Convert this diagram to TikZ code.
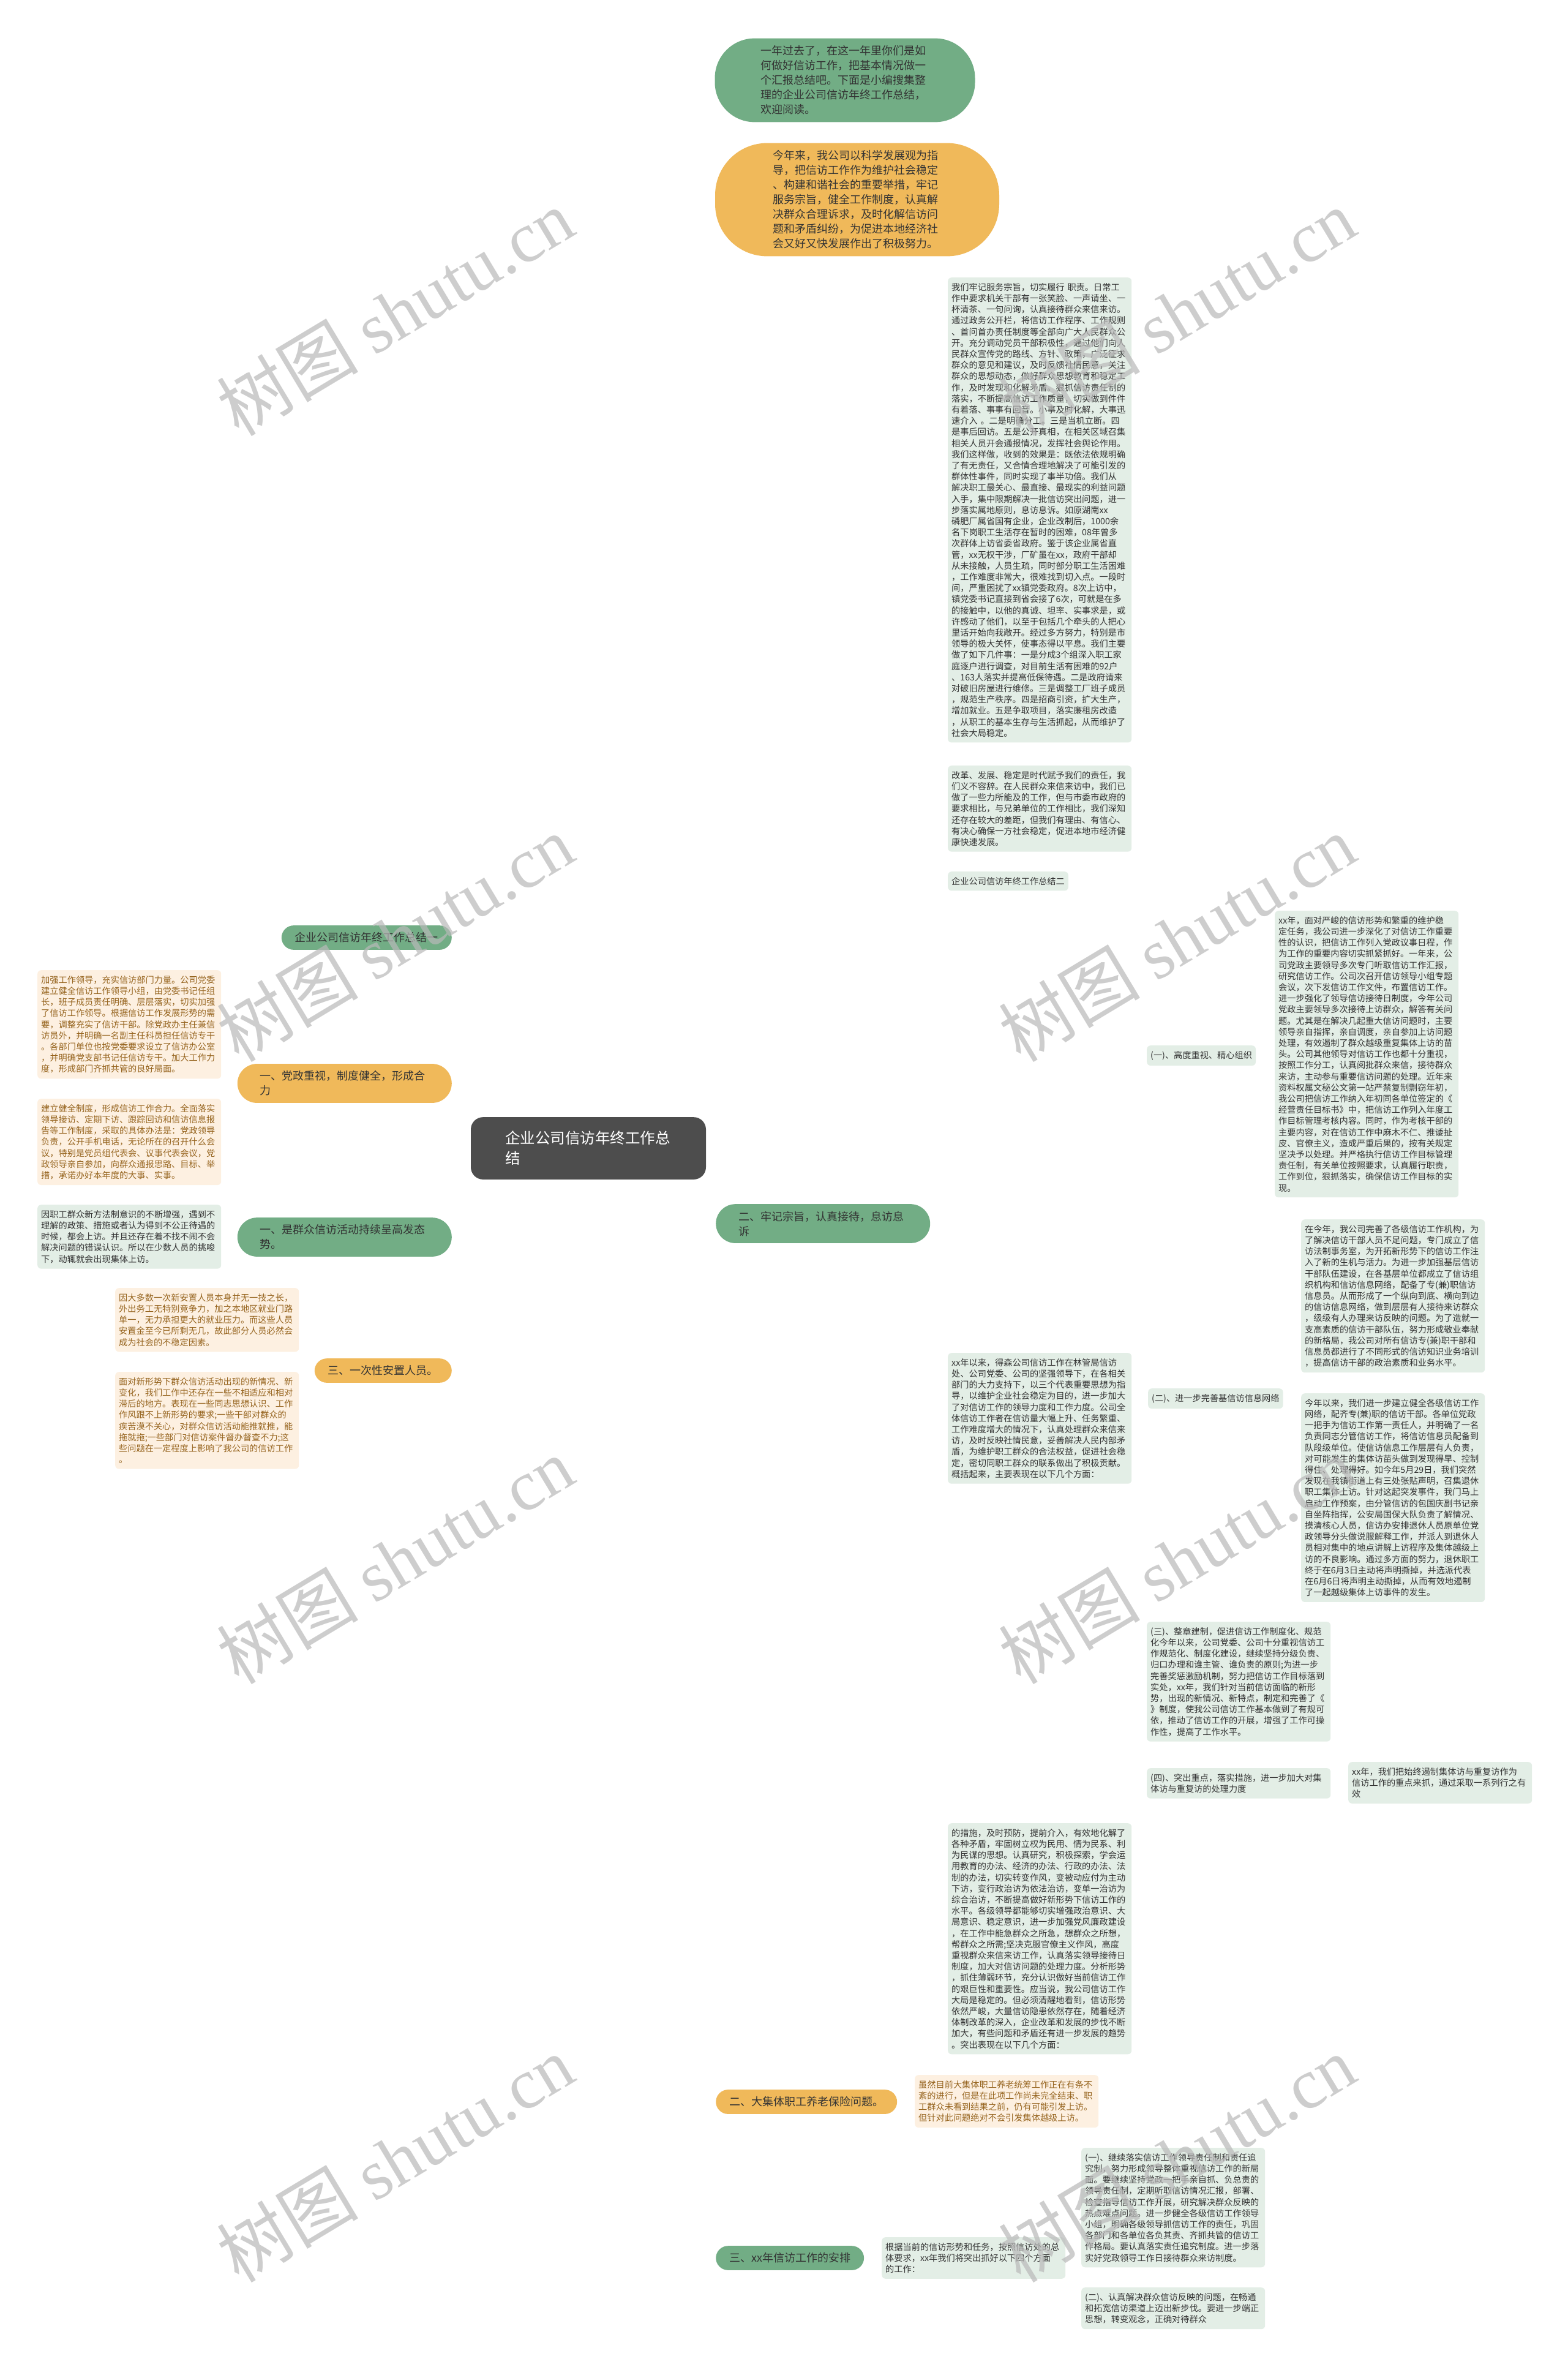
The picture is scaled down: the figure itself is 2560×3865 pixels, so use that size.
\documentclass[tikz,border=0pt]{standalone}
\usepackage{fontspec}
\setmainfont{Noto Sans CJK SC}
\newfontfamily\wmfont{Liberation Serif}
\usepackage{xcolor}
\usetikzlibrary{backgrounds,calc}
\definecolor{cRoot}  {RGB}{77,77,77}
\definecolor{cGreen} {RGB}{114,173,133}
\definecolor{cOrange}{RGB}{240,185,90}
\definecolor{cPaleG} {RGB}{227,238,230}
\definecolor{cPaleO} {RGB}{253,240,225}
\definecolor{cText}  {RGB}{51,51,51}
\definecolor{cBrown} {RGB}{150,100,30}
\definecolor{cMark}  {RGB}{185,185,185}
\tikzset{
  root/.style={fill=cRoot,text=white,rounded corners=20pt,text width=272pt,align=left,
               inner xsep=56pt,inner ysep=23pt,font=\fontsize{24.5}{33}\selectfont},
  pill/.style={rounded corners=20pt,text=cText,inner xsep=22pt,inner ysep=11.5pt,
               align=left,font=\fontsize{18}{24}\selectfont},
  pillG/.style={pill,fill=cGreen},
  pillO/.style={pill,fill=cOrange},
  wide/.style={text width=276pt,inner xsep=37pt,rounded corners=32pt},
  bigpill/.style={text width=276pt,inner ysep=12pt},
  box/.style={fill=cPaleG,rounded corners=6pt,text=cText,inner xsep=6pt,inner ysep=9pt,
              align=left,anchor=north west,font=\fontsize{14.2}{18.2}\selectfont},
  boxO/.style={box,fill=cPaleO,text=cBrown},
  blk/.style={box,text width=288pt},
  blkO/.style={boxO,text width=288pt},
  lnG/.style={draw=cGreen,line width=2.4pt},
  lnO/.style={draw=cOrange,line width=2.4pt},
  wmark/.style={rotate=31,text=cMark,opacity=0.7,font=\fontsize{116}{116}\selectfont},
}
\begin{document}
\begin{tikzpicture}[x=1pt,y=-1pt]
  \useasboundingbox[fill=white] (0,0) rectangle (2560,3865);

  % ---- centre ----
  \node[root] (root) at (961,1875) {企业公司信访年终工作总\\结};
  \coordinate (rootR) at (1120,1875);
  \coordinate (rootL) at (800,1875);

  % ---- right main branches ----
  \node[pillG,bigpill,rounded corners=65pt,minimum width=425pt] (intro) at (1380,131)
    {一年过去了，在这一年里你们是如\\何做好信访工作，把基本情况做一\\个汇报总结吧。下面是小编搜集整\\理的企业公司信访年终工作总结，\\欢迎阅读。};
  \node[pillO,bigpill,rounded corners=85pt,minimum width=464pt] (guide) at (1400,326)
    {今年来，我公司以科学发展观为指\\导，把信访工作作为维护社会稳定\\、构建和谐社会的重要举措，牢记\\服务宗旨，健全工作制度，认真解\\决群众合理诉求，及时化解信访问\\题和矛盾纠纷，为促进本地经济社\\会又好又快发展作出了积极努力。};
  \node[pillG,wide,anchor=west] (duty) at (1169,1998) {二、牢记宗旨，认真接待，息访息\\诉};
  \node[pillO,anchor=west] (pension) at (1169,3432) {二、大集体职工养老保险问题。};
  \node[pillG,anchor=west] (plan) at (1169,3687) {三、xx年信访工作的安排};

  % ---- left main branches ----
  \node[pillG,anchor=east] (sumA) at (738,1531) {企业公司信访年终工作总结一};
  \node[pillO,wide,anchor=east] (lead) at (738,1769) {一、党政重视，制度健全，形成合\\力};
  \node[pillG,wide,anchor=east] (rise) at (738,2020) {一、是群众信访活动持续呈高发态\\势。};
  \node[pillO,anchor=east] (resettle) at (738,2238) {三、一次性安置人员。};

  % ---- children of duty ----
  \node[blk] (serve) at (1548,453) {我们牢记服务宗旨，切实履行 职责。日常工\\作中要求机关干部有一张笑脸、一声请坐、一\\杯清茶、一句问询，认真接待群众来信来访。\\通过政务公开栏，将信访工作程序、工作规则\\、首问首办责任制度等全部向广大人民群众公\\开。充分调动党员干部积极性，通过他们向人\\民群众宣传党的路线、方针、政策，广泛征求\\群众的意见和建议，及时反馈社情民意，关注\\群众的思想动态，做好群众思想教育和稳定工\\作，及时发现和化解矛盾。狠抓信访责任制的\\落实，不断提高信访工作质量，切实做到件件\\有着落、事事有回音。小事及时化解，大事迅\\速介入 。二是明确分工。三是当机立断。四\\是事后回访。五是公开真相，在相关区域召集\\相关人员开会通报情况，发挥社会舆论作用。\\我们这样做，收到的效果是：既依法依规明确\\了有无责任，又合情合理地解决了可能引发的\\群体性事件，同时实现了事半功倍。我们从\\解决职工最关心、最直接、最现实的利益问题\\入手，集中限期解决一批信访突出问题，进一\\步落实属地原则，息访息诉。如原湖南xx\\磷肥厂属省国有企业，企业改制后，1000余\\名下岗职工生活存在暂时的困难，08年曾多\\次群体上访省委省政府。鉴于该企业属省直\\管，xx无权干涉，厂矿虽在xx，政府干部却\\从未接触，人员生疏，同时部分职工生活困难\\，工作难度非常大，很难找到切入点。一段时\\间，严重困扰了xx镇党委政府。8次上访中，\\镇党委书记直接到省会接了6次，可就是在多\\的接触中，以他的真诚、坦率、实事求是，或\\许感动了他们，以至于包括几个牵头的人把心\\里话开始向我敞开。经过多方努力，特别是市\\领导的极大关怀，使事态得以平息。我们主要\\做了如下几件事：一是分成3个组深入职工家\\庭逐户进行调查，对目前生活有困难的92户\\、163人落实并提高低保待遇。二是政府请来\\对破旧房屋进行维修。三是调整工厂班子成员\\，规范生产秩序。四是招商引资，扩大生产，\\增加就业。五是争取项目，落实廉租房改造\\，从职工的基本生存与生活抓起，从而维护了\\社会大局稳定。};
  \node[blk] (reform) at (1548,1250) {改革、发展、稳定是时代赋予我们的责任，我\\们义不容辞。在人民群众来信来访中，我们已\\做了一些力所能及的工作，但与市委市政府的\\要求相比，与兄弟单位的工作相比，我们深知\\还存在较大的差距，但我们有理由、有信心、\\有决心确保一方社会稳定，促进本地市经济健\\康快速发展。};
  \node[box] (sumB) at (1548,1423) {企业公司信访年终工作总结二};
  \node[blk] (since) at (1548,2209) {xx年以来，得森公司信访工作在林管局信访\\处、公司党委、公司的坚强领导下，在各相关\\部门的大力支持下，以三个代表重要思想为指\\导，以维护企业社会稳定为目的，进一步加大\\了对信访工作的领导力度和工作力度。公司全\\体信访工作者在信访量大幅上升、任务繁重、\\工作难度增大的情况下，认真处理群众来信来\\访，及时反映社情民意，妥善解决人民内部矛\\盾，为维护职工群众的合法权益，促进社会稳\\定，密切同职工群众的联系做出了积极贡献。\\概括起来，主要表现在以下几个方面：};
  \node[blk] (measure) at (1548,2977) {的措施，及时预防，提前介入，有效地化解了\\各种矛盾，牢固树立权为民用、情为民系、利\\为民谋的思想。认真研究，积极探索，学会运\\用教育的办法、经济的办法、行政的办法、法\\制的办法，切实转变作风，变被动应付为主动\\下访，变行政治访为依法治访，变单一治访为\\综合治访，不断提高做好新形势下信访工作的\\水平。各级领导都能够切实增强政治意识、大\\局意识、稳定意识，进一步加强党风廉政建设\\，在工作中能急群众之所急，想群众之所想，\\帮群众之所需;坚决克服官僚主义作风，高度\\重视群众来信来访工作，认真落实领导接待日\\制度，加大对信访问题的处理力度。分析形势\\，抓住薄弱环节，充分认识做好当前信访工作\\的艰巨性和重要性。应当说，我公司信访工作\\大局是稳定的。但必须清醒地看到，信访形势\\依然严峻，大量信访隐患依然存在，随着经济\\体制改革的深入，企业改革和发展的步伐不断\\加大，有些问题和矛盾还有进一步发展的趋势\\。突出表现在以下几个方面：};

  % ---- children of since ----
  \node[box] (ptA) at (1873,1707) {(一)、高度重视、精心组织};
  \node[blk] (ptAt) at (2082,1487) {xx年，面对严峻的信访形势和繁重的维护稳\\定任务，我公司进一步深化了对信访工作重要\\性的认识，把信访工作列入党政议事日程，作\\为工作的重要内容切实抓紧抓好。一年来，公\\司党政主要领导多次专门听取信访工作汇报，\\研究信访工作。公司次召开信访领导小组专题\\会议，次下发信访工作文件，布置信访工作。\\进一步强化了领导信访接待日制度，今年公司\\党政主要领导多次接待上访群众，解答有关问\\题。尤其是在解决几起重大信访问题时，主要\\领导亲自指挥，亲自调度，亲自参加上访问题\\处理，有效遏制了群众越级重复集体上访的苗\\头。公司其他领导对信访工作也都十分重视，\\按照工作分工，认真阅批群众来信，接待群众\\来访，主动参与重要信访问题的处理。近年来\\资料权属文秘公文第一站严禁复制剽窃年初，\\我公司把信访工作纳入年初同各单位签定的《\\经营责任目标书》中，把信访工作列入年度工\\作目标管理考核内容。同时，作为考核干部的\\主要内容，对在信访工作中麻木不仁、推诿扯\\皮、官僚主义，造成严重后果的，按有关规定\\坚决予以处理。并严格执行信访工作目标管理\\责任制，有关单位按照要求，认真履行职责，\\工作到位，狠抓落实，确保信访工作目标的实\\现。};
  \node[box] (ptB) at (1875,2267) {(二)、进一步完善基信访信息网络};
  \node[blk] (ptBa) at (2125,1991) {在今年，我公司完善了各级信访工作机构，为\\了解决信访干部人员不足问题，专门成立了信\\访法制事务室，为开拓新形势下的信访工作注\\入了新的生机与活力。为进一步加强基层信访\\干部队伍建设，在各基层单位都成立了信访组\\织机构和信访信息网络，配备了专(兼)职信访\\信息员。从而形成了一个纵向到底、横向到边\\的信访信息网络，做到层层有人接待来访群众\\，级级有人办理来访反映的问题。为了造就一\\支高素质的信访干部队伍，努力形成敬业奉献\\的新格局，我公司对所有信访专(兼)职干部和\\信息员都进行了不同形式的信访知识业务培训\\，提高信访干部的政治素质和业务水平。};
  \node[blk] (ptBb) at (2125,2275) {今年以来，我们进一步建立健全各级信访工作\\网络，配齐专(兼)职的信访干部。各单位党政\\一把手为信访工作第一责任人，并明确了一名\\负责同志分管信访工作，将信访信息员配备到\\队段级单位。使信访信息工作层层有人负责，\\对可能发生的集体访苗头做到发现得早、控制\\得住、处理得好。如今年5月29日，我们突然\\发现在我镇街道上有三处张贴声明，召集退休\\职工集体上访。针对这起突发事件，我门马上\\启动工作预案，由分管信访的包国庆副书记亲\\自坐阵指挥，公安局国保大队负责了解情况、\\摸清核心人员，信访办安排退休人员原单位党\\政领导分头做说服解释工作，并派人到退休人\\员相对集中的地点讲解上访程序及集体越级上\\访的不良影响。通过多方面的努力，退休职工\\终于在6月3日主动将声明撕掉，并选派代表\\在6月6日将声明主动撕掉，从而有效地遏制\\了一起越级集体上访事件的发生。};
  \node[blk] (ptC) at (1873,2648) {(三)、整章建制，促进信访工作制度化、规范\\化今年以来，公司党委、公司十分重视信访工\\作规范化、制度化建设，继续坚持分级负责、\\归口办理和谁主管、谁负责的原则;为进一步\\完善奖惩激励机制，努力把信访工作目标落到\\实处，xx年，我们针对当前信访面临的新形\\势，出现的新情况、新特点，制定和完善了《\\》制度，使我公司信访工作基本做到了有规可\\依，推动了信访工作的开展，增强了工作可操\\作性，提高了工作水平。};
  \node[blk] (ptD) at (1873,2887) {(四)、突出重点，落实措施，进一步加大对集\\体访与重复访的处理力度};
  \node[blk] (ptDt) at (2202,2877) {xx年，我们把始终遏制集体访与重复访作为\\信访工作的重点来抓，通过采取一系列行之有\\效};

  % ---- children of pension / plan ----
  \node[blkO] (pensionT) at (1494,3388) {虽然目前大集体职工养老统筹工作正在有条不\\紊的进行，但是在此项工作尚未完全结束、职\\工群众未看到结果之前，仍有可能引发上访。\\但针对此问题绝对不会引发集体越级上访。};
  \node[blk] (planT) at (1440,3653) {根据当前的信访形势和任务，按照信访处的总\\体要求，xx年我们将突出抓好以下四个方面\\的工作：};
  \node[blk] (planA) at (1766,3507) {(一)、继续落实信访工作领导责任制和责任追\\究制，努力形成领导整体重视信访工作的新局\\面。要继续坚持党政一把手亲自抓、负总责的\\领导责任制，定期听取信访情况汇报，部署、\\检查指导信访工作开展，研究解决群众反映的\\热点难点问题。进一步健全各级信访工作领导\\小组，明确各级领导抓信访工作的责任，巩固\\各部门和各单位各负其责、齐抓共管的信访工\\作格局。要认真落实责任追究制度。进一步落\\实好党政领导工作日接待群众来访制度。};
  \node[blk] (planB) at (1766,3735) {(二)、认真解决群众信访反映的问题，在畅通\\和拓宽信访渠道上迈出新步伐。要进一步端正\\思想，转变观念，正确对待群众};

  % ---- children of left branches ----
  \node[blkO] (leadA) at (61,1584) {加强工作领导，充实信访部门力量。公司党委\\建立健全信访工作领导小组，由党委书记任组\\长，班子成员责任明确、层层落实，切实加强\\了信访工作领导。根据信访工作发展形势的需\\要，调整充实了信访干部。除党政办主任兼信\\访员外，并明确一名副主任科员担任信访专干\\。各部门单位也按党委要求设立了信访办公室\\，并明确党支部书记任信访专干。加大工作力\\度，形成部门齐抓共管的良好局面。};
  \node[blkO] (leadB) at (61,1794) {建立健全制度，形成信访工作合力。全面落实\\领导接访、定期下访、跟踪回访和信访信息报\\告等工作制度，采取的具体办法是：党政领导\\负责，公开手机电话，无论所在的召开什么会\\议，特别是党员组代表会、议事代表会议，党\\政领导亲自参加，向群众通报思路、目标、举\\措，承诺办好本年度的大事、实事。};
  \node[blk] (riseT) at (61,1967) {因职工群众新方法制意识的不断增强，遇到不\\理解的政策、措施或者认为得到不公正待遇的\\时候，都会上访。并且还存在着不找不闹不会\\解决问题的错误认识。所以在少数人员的挑唆\\下，动辄就会出现集体上访。};
  \node[blkO] (resA) at (188,2103) {因大多数一次新安置人员本身并无一技之长，\\外出务工无特别竞争力，加之本地区就业门路\\单一，无力承担更大的就业压力。而这些人员\\安置金至今已所剩无几，故此部分人员必然会\\成为社会的不稳定因素。};
  \node[blkO] (resB) at (188,2240) {面对新形势下群众信访活动出现的新情况、新\\变化，我们工作中还存在一些不相适应和相对\\滞后的地方。表现在一些同志思想认识、工作\\作风跟不上新形势的要求;一些干部对群众的\\疾苦漠不关心，对群众信访活动能推就推，能\\拖就拖;一些部门对信访案件督办督查不力;这\\些问题在一定程度上影响了我公司的信访工作\\。};

  % ---- connectors (trunk x given by a coordinate) ----
  \newcommand{\conn}[4]{% #1 style #2 from #3 to #4 trunk
    \draw[#1] (#2) .. controls (#2 -| #4) and (#3 -| #4) .. (#3);}
  \coordinate (tDuty) at (1536,0);
  \coordinate (tSince) at (1861,0);
  \coordinate (tPtB) at (2112,0);
  \coordinate (tPlan) at (1753,0);
  \coordinate (tLead) at (373,0);
  \coordinate (tRes) at (499,0);
  \begin{scope}[on background layer]
    \conn{lnG}{rootR}{intro.west}{rootR}
    \conn{lnO}{rootR}{guide.west}{rootR}
    \conn{lnG}{rootR}{duty.west}{rootR}
    \conn{lnO}{rootR}{pension.west}{rootR}
    \conn{lnG}{rootR}{plan.west}{rootR}
    \conn{lnG}{rootL}{sumA.east}{rootL}
    \conn{lnO}{rootL}{lead.east}{rootL}
    \conn{lnG}{rootL}{rise.east}{rootL}
    \conn{lnO}{rootL}{resettle.east}{rootL}
    \foreach \c in {serve,reform,sumB,since,measure}
      \conn{lnG}{duty.east}{\c.west}{tDuty}
    \foreach \c in {ptA,ptB,ptC,ptD}
      \conn{lnG}{since.east}{\c.west}{tSince}
    \draw[lnG] (ptA.east) -- (ptAt.west);
    \conn{lnG}{ptB.east}{ptBa.west}{tPtB}
    \conn{lnG}{ptB.east}{ptBb.west}{tPtB}
    \draw[lnG] (ptD.east) -- (ptDt.west);
    \draw[lnO] (pension.east) -- (pensionT.west);
    \draw[lnG] (plan.east) -- (planT.west);
    \conn{lnG}{planT.east}{planA.west}{tPlan}
    \conn{lnG}{planT.east}{planB.west}{tPlan}
    \conn{lnO}{lead.west}{leadA.east}{tLead}
    \conn{lnO}{lead.west}{leadB.east}{tLead}
    \draw[lnG] (rise.west) -- (riseT.east);
    \conn{lnO}{resettle.west}{resA.east}{tRes}
    \conn{lnO}{resettle.west}{resB.east}{tRes}
  \end{scope}

  % ---- watermarks ----
  \foreach \wx/\wy [count=\i] in {645/510,1922/510,645/1532,1922/1532,645/2548,1922/2548,645/3525,1922/3525}
    \node[wmark] (wm\i) at (\wx,\wy) {树图 {\wmfont shutu.cn}};
\end{tikzpicture}
\end{document}
